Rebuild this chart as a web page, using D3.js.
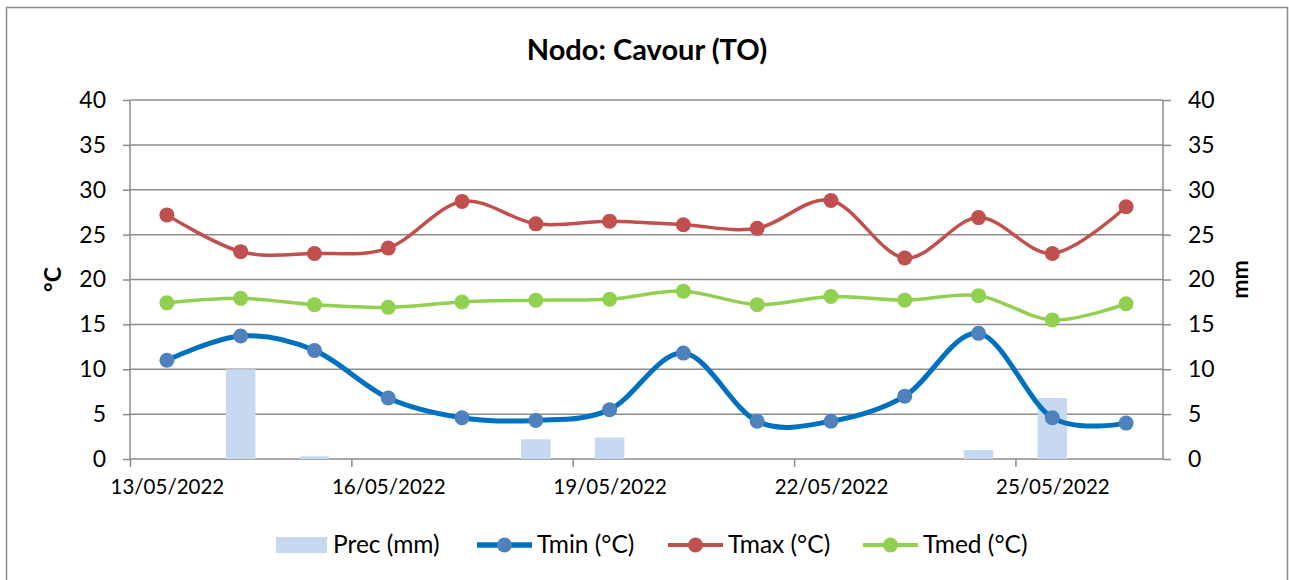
<!DOCTYPE html>
<html>
<head>
<meta charset="utf-8">
<script src="https://cdn.jsdelivr.net/npm/d3@7"></script>
<style>
  body { margin: 0; background: #fff; }
  svg { font-family: Lato, "Open Sans", sans-serif; }
</style>
</head>
<body>
<div id="chart"></div>
<script>
// dati giornalieri nodo Cavour (TO)
var days = ['2022-05-13','2022-05-14','2022-05-15','2022-05-16','2022-05-17','2022-05-18','2022-05-19',
            '2022-05-20','2022-05-21','2022-05-22','2022-05-23','2022-05-24','2022-05-25','2022-05-26'];
var prec = [0, 10.0, 0.3, 0, 0, 2.2, 2.4, 0, 0, 0, 0, 1.0, 6.8, 0];
var tmin = [11.0, 13.7, 12.1, 6.8, 4.6, 4.3, 5.5, 11.8, 4.2, 4.2, 7.0, 14.0, 4.6, 4.0];
var tmax = [27.2, 23.1, 22.9, 23.5, 28.7, 26.2, 26.5, 26.1, 25.7, 28.8, 22.4, 26.9, 22.9, 28.1];
var tmed = [17.4, 17.9, 17.2, 16.9, 17.5, 17.7, 17.8, 18.7, 17.2, 18.1, 17.7, 18.2, 15.5, 17.3];
var yTicks = [0, 5, 10, 15, 20, 25, 30, 35, 40];
var xTickDays = ['2022-05-13','2022-05-16','2022-05-19','2022-05-22','2022-05-25'];

var width = 1289, height = 580;
var pLeft = 130, pRight = 1163, pTop = 100, pBottom = 459;

var parse = d3.timeParse('%Y-%m-%d');
var fmt = d3.timeFormat('%d/%m/%Y');
var dates = days.map(parse);
var DAY = 864e5;

var svg = d3.select('#chart')
    .append('svg')
    .attr('width', width)
    .attr('height', height);

// cornice
svg.append('rect')
    .attr('x', 6.5).attr('y', 7.5)
    .attr('width', 1281).attr('height', 580)
    .attr('fill', 'none')
    .attr('stroke', '#8c8c8c')
    .attr('stroke-width', 1.5);

var x = d3.scaleTime()
    .domain([dates[0], new Date(+dates[13] + DAY)])
    .range([pLeft, pRight]);
var y = d3.scaleLinear().domain([0, 40]).range([pBottom, pTop]);
var y2 = d3.scaleLinear().domain([0, 40]).range([pBottom, pTop]);
var halfDay = (x(dates[1]) - x(dates[0])) / 2;

// griglia
svg.append('g')
    .selectAll('line')
    .data(yTicks.filter(d => d > 0))
    .enter()
    .append('line')
    .attr('x1', pLeft).attr('x2', pRight)
    .attr('y1', d => y(d)).attr('y2', d => y(d))
    .attr('stroke', '#8c8c8c')
    .attr('stroke-width', 1.5);

// assi
var axisL = svg.append('g')
    .attr('transform', 'translate(' + pLeft + ',0)')
    .call(d3.axisLeft(y).tickValues(yTicks).tickSize(7).tickPadding(17));
var axisR = svg.append('g')
    .attr('transform', 'translate(' + pRight + ',0)')
    .call(d3.axisRight(y2).tickValues(yTicks).tickSize(8).tickPadding(17));
var axisX = svg.append('g')
    .attr('transform', 'translate(0,' + pBottom + ')')
    .call(d3.axisBottom(x).tickValues(xTickDays.map(parse)).tickFormat(fmt).tickSize(8).tickPadding(12));

[axisL, axisR, axisX].forEach(function(a) {
    a.select('.domain').attr('stroke', '#8c8c8c').attr('stroke-width', 1.5);
    a.selectAll('.tick line').attr('stroke', '#8c8c8c').attr('stroke-width', 1.5);
    a.selectAll('text').attr('fill', '#000').attr('font-family', 'Lato, sans-serif');
});
axisL.selectAll('text').attr('font-size', 23);
axisR.selectAll('text').attr('font-size', 23);
// etichette centrate sul giorno, come in Excel
axisX.selectAll('text').attr('font-size', 20.5).attr('x', halfDay);
axisX.select('.domain').attr('d', 'M' + pLeft + ',0H' + pRight);
axisL.select('.domain').attr('d', 'M0,' + pBottom + 'V' + pTop);
axisR.select('.domain').attr('d', 'M0,' + pBottom + 'V' + pTop);

// barre precipitazioni
svg.append('g')
    .selectAll('rect')
    .data(prec)
    .enter()
    .append('rect')
    .attr('x', (d, i) => x(new Date(+dates[i] + 0.3 * DAY)))
    .attr('width', (d, i) => x(new Date(+dates[i] + 0.7 * DAY)) - x(new Date(+dates[i] + 0.3 * DAY)))
    .attr('y', d => y2(d))
    .attr('height', d => pBottom - y2(d))
    .attr('fill', '#c6d9f1');

var series = [
    { name: 'Tmin (°C)', values: tmin, line: '#0070c0', marker: '#4f81bd', w: 5 },
    { name: 'Tmax (°C)', values: tmax, line: '#c0504d', marker: '#c0504d', w: 3.5 },
    { name: 'Tmed (°C)', values: tmed, line: '#92d050', marker: '#92d050', w: 3.5 }
];

var mid = i => x(new Date(+dates[i] + 0.5 * DAY));
var line = d3.line()
    .x((d, i) => mid(i))
    .y(d => y(d))
    .curve(d3.curveCatmullRom.alpha(0));

series.forEach(function(s) {
    var g = svg.append('g');
    g.append('path')
        .attr('d', line(s.values))
        .attr('fill', 'none')
        .attr('stroke', s.line)
        .attr('stroke-width', s.w)
        .attr('stroke-linecap', 'round');
    g.selectAll('circle')
        .data(s.values)
        .enter()
        .append('circle')
        .attr('cx', (d, i) => mid(i))
        .attr('cy', d => y(d))
        .attr('r', 7.5)
        .attr('fill', s.marker);
});

// titoli
svg.append('text')
    .attr('x', 647).attr('y', 60)
    .attr('text-anchor', 'middle')
    .attr('font-size', 29).attr('font-weight', 'bold')
    .text('Nodo: Cavour (TO)');
svg.append('text')
    .attr('transform', 'translate(61,' + (pTop + pBottom) / 2 + ') rotate(-90)')
    .attr('text-anchor', 'middle')
    .attr('font-size', 23).attr('font-weight', 'bold')
    .text('°C');
svg.append('text')
    .attr('transform', 'translate(1248,' + (pTop + pBottom) / 2 + ') rotate(-90)')
    .attr('text-anchor', 'middle')
    .attr('font-size', 23).attr('font-weight', 'bold')
    .text('mm');

// legenda
var legend = svg.append('g').attr('transform', 'translate(0,545)');
legend.append('rect')
    .attr('x', 276).attr('y', -8).attr('width', 51).attr('height', 16)
    .attr('fill', '#c6d9f1');
legend.append('text').attr('x', 333).attr('y', 8).attr('font-size', 24.5).text('Prec (mm)');
var legX = [477, 668, 863];
series.forEach(function(s, i) {
    legend.append('line')
        .attr('x1', legX[i]).attr('x2', legX[i] + 55)
        .attr('stroke', s.line).attr('stroke-width', s.w + 0.5);
    legend.append('circle')
        .attr('cx', legX[i] + 27.5).attr('r', 7.5).attr('fill', s.marker);
    legend.append('text')
        .attr('x', legX[i] + 60).attr('y', 8)
        .attr('font-size', 24.5)
        .text(s.name);
});
</script>
</body>
</html>
